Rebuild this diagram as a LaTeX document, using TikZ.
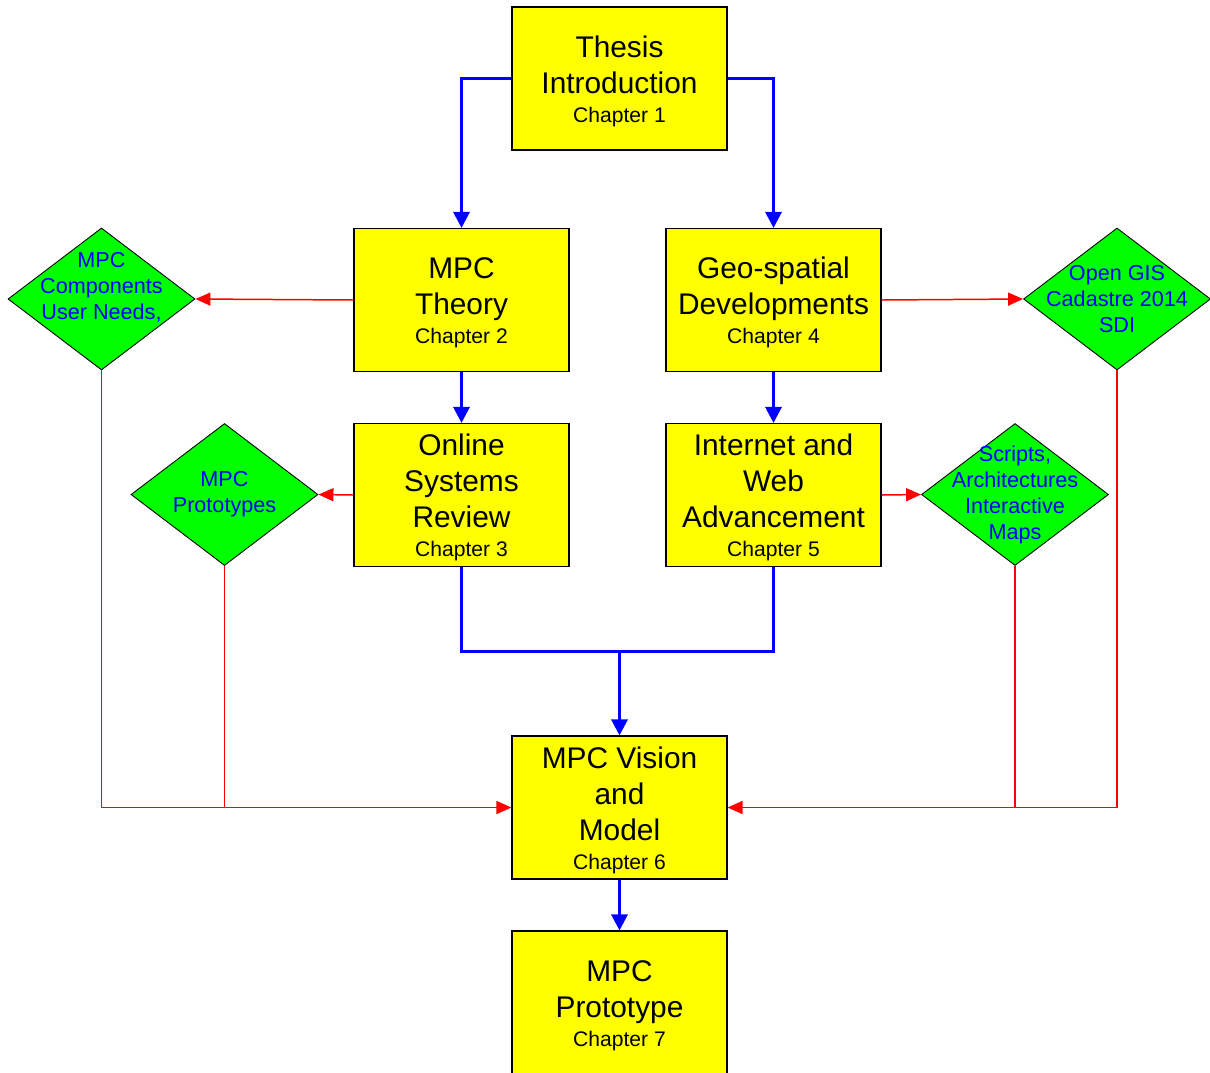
\documentclass[tikz,border=0pt]{standalone}
\usepackage{fontspec}
\setmainfont{Liberation Sans}
\usepackage{xcolor}
\usetikzlibrary{arrows.meta,positioning,shapes.geometric}
\definecolor{caixa}{HTML}{FFFF00}
\definecolor{losango}{HTML}{00FF00}
\definecolor{azulseta}{HTML}{0000FF}
\definecolor{vermelhoseta}{HTML}{FF0000}
\newcommand{\chap}[1]{\\[-4pt]{\fontsize{12}{14}\selectfont Chapter #1}}
\newcommand{\tp}{\rule{0pt}{15.5pt}}

\begin{document}
\begin{tikzpicture}[
  chapbox/.style={draw=black,fill=caixa,line width=0.6pt,minimum width=4.3cm,minimum height=2.86cm,align=center,inner sep=1pt,font=\fontsize{17}{20.5}\selectfont},
  topic/.style={diamond,draw=black,fill=losango,line width=0.5pt,minimum width=3.74cm,minimum height=2.84cm,inner sep=0pt},
  topictext/.style={text=azulseta,align=center,font=\fontsize{12.3}{14.8}\selectfont},
  flow/.style={-{Triangle[length=0.32cm,width=0.32cm]},draw=azulseta,line width=1.7pt},
  feed/.style={-{Triangle[length=0.3cm,width=0.26cm]},draw=vermelhoseta,line width=0.85pt},
  feedline/.style={draw=vermelhoseta,line width=0.85pt}
]
  \useasboundingbox (0,0) rectangle (24.2,-21.44);
  \clip (0,0) rectangle (24.2,-21.44);
  \node[chapbox] (thesis) at (12.39,-1.57) {\tp Thesis\\Introduction\chap{1}};
  \node[chapbox] (theory) at (9.23,-6.0) {\tp MPC\\Theory\chap{2}};
  \node[chapbox] (geo) at (15.47,-6.0) {\tp Geo-spatial\\Developments\chap{4}};
  \node[chapbox] (online) at (9.23,-9.9) {\tp Online\\Systems\\Review\chap{3}};
  \node[chapbox] (internet) at (15.47,-9.9) {\tp Internet and\\Web\\Advancement\chap{5}};
  \node[chapbox] (vision) at (12.39,-16.15) {\tp MPC Vision\\and\\Model\chap{6}};
  \node[chapbox] (proto) at (12.39,-20.05) {\tp MPC\\Prototype\chap{7}};
  \node[topic,label={[topictext]center:{MPC\\Components\\User Needs,\\\mbox{}}}] (needs) at (2.03,-5.98) {};
  \node[topic,label={[topictext]center:{MPC\\Prototypes}}] (protos) at (4.49,-9.89) {};
  \node[topic,label={[topictext]center:{Open GIS\\Cadastre 2014\\SDI}}] (gis) at (22.34,-5.98) {};
  \node[topic,label={[topictext]center:{Scripts,\\Architectures\\Interactive\\Maps}}] (maps) at (20.3,-9.89) {};
  \coordinate (join) at (12.39,-13.02);
  \draw[flow] (thesis.west) -| (theory.north);
  \draw[flow] (thesis.east) -| (geo.north);
  \draw[flow] (theory) -- (online);
  \draw[flow] (geo) -- (internet);
  \draw[azulseta,line width=1.7pt] (online.south) |- (join) -| (internet.south);
  \draw[flow] (join) -- (vision.north);
  \draw[flow] (vision) -- (proto);
  \draw[feed] (theory.west) -- (needs.east);
  \draw[feed] (online.west) -- (protos.east);
  \draw[feed] (geo.east) -- (gis.west);
  \draw[feed] (internet.east) -- (maps.west);
  \draw[feed] (needs.south) |- (vision.west);
  \draw[feedline] (protos.south) -- (protos.south |- vision.west);
  \draw[feed] (gis.south) |- (vision.east);
  \draw[feedline] (maps.south) -- (maps.south |- vision.east);
\end{tikzpicture}
\end{document}
